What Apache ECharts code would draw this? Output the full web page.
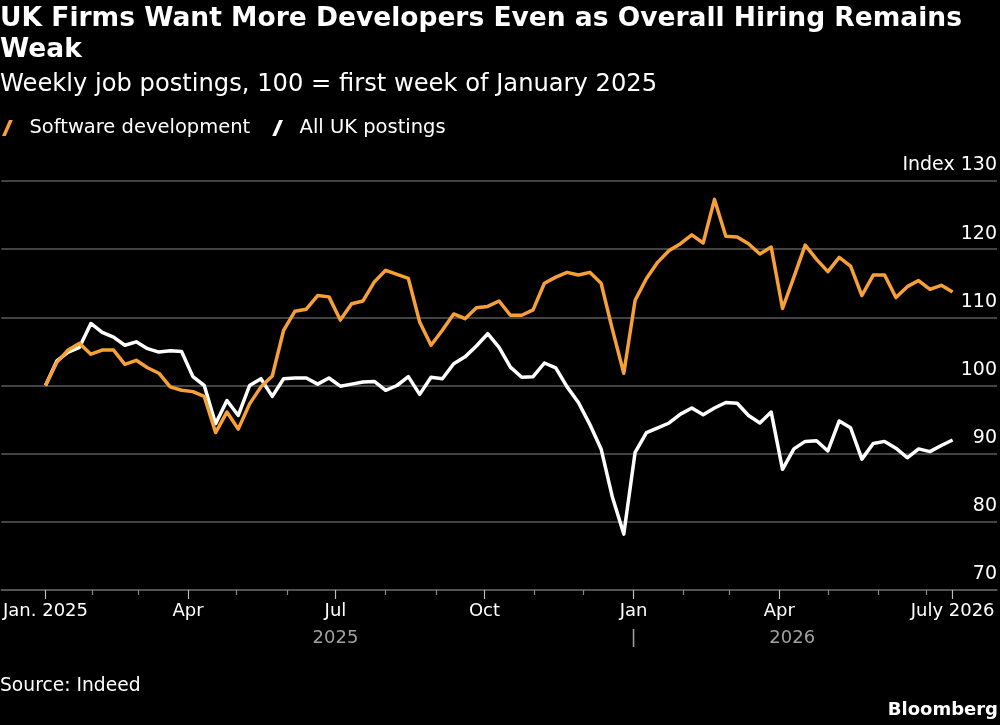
<!DOCTYPE html>
<html>
<head>
<meta charset="utf-8">
<script src="https://cdn.jsdelivr.net/npm/echarts@6/dist/echarts.min.js"></script>
<style>
html,body{margin:0;padding:0;background:#000;}
#chart{width:1000px;height:725px;}
</style>
</head>
<body>
<div id="chart"></div>
<script>
// ---- data ----
const titleText = 'UK Firms Want More Developers Even as Overall Hiring Remains\nWeak';
const subtitleText = 'Weekly job postings, 100 = first week of January 2025';
const sourceText = 'Source: Indeed';
const seriesNames = ['Software development', 'All UK postings'];
const firstWeek = '2025-01-03'; // weekly observations from this date
const software = [100,103.4,105.2,106.2,104.6,105.2,105.2,103.1,103.7,102.6,101.8,99.8,99.3,99.1,98.4,93.1,96.1,93.6,97.3,99.8,101.4,108.1,110.9,111.2,113.2,113,109.6,112,112.4,115.2,116.9,116.3,115.7,109.3,105.9,108.1,110.5,109.8,111.4,111.6,112.4,110.3,110.3,111.1,115,115.9,116.6,116.2,116.6,115,108.2,101.8,112.5,115.7,118.1,119.8,120.8,122.1,120.9,127.3,121.9,121.8,120.8,119.3,120.3,111.3,115.9,120.6,118.5,116.7,118.8,117.5,113.2,116.2,116.2,112.9,114.5,115.4,114.1,114.7,113.7];
const allUK = [100,103.6,104.9,105.6,109.1,107.8,107.1,105.9,106.4,105.4,104.9,105.1,105.0,101.3,100.0,94.4,97.8,95.6,100,101,98.4,101,101.1,101.1,100.2,101.1,99.9,100.2,100.5,100.6,99.3,100,101.3,98.7,101.2,101,103.2,104.2,105.8,107.6,105.6,102.7,101.2,101.3,103.3,102.6,99.8,97.5,94.3,90.7,83.6,78.2,90.2,93.1,93.8,94.5,95.8,96.7,95.7,96.7,97.5,97.4,95.6,94.5,96.1,87.7,90.7,91.8,91.9,90.4,94.8,93.8,89.2,91.5,91.8,90.8,89.4,90.7,90.3,91.2,92];
const majorTickDates = ['2025-01-03','2025-04-01','2025-07-01','2025-10-01','2026-01-01','2026-04-01','2026-07-17'];
const majorTickLabels = ['Jan. 2025','Apr','Jul','Oct','Jan','Apr','July 2026'];
const minorTickDates = ['2025-02-01','2025-03-01','2025-05-01','2025-06-01','2025-08-01','2025-09-01','2025-11-01','2025-12-01','2026-02-01','2026-03-01','2026-05-01','2026-06-01','2026-07-01'];
const yearLabelDates = ['2025-07-01','2026-01-01','2026-04-09'];
const yearLabels = ['2025','|','2026'];
const axisMinDate = '2024-12-06';
const axisMaxDate = '2026-08-13';

// ---- build (x axis = days since first week) ----
const DAY = 86400000;
const t = s => Date.parse(s + 'T00:00:00Z');
const t0 = t(firstWeek);
const d = s => Math.round((t(s) - t0) / DAY);
const softData = software.map((v, i) => [i * 7, v]);
const ukData = allUK.map((v, i) => [i * 7, v]);
const majorDays = majorTickDates.map(d);
const minorDays = minorTickDates.map(d);
const yearDays = yearLabelDates.map(d);
const xMin = d(axisMinDate) + 0.7;
const xMax = d(axisMaxDate) + 0.4;

const FONT = 'DejaVu Sans';
const GRID = '#5a5a5a';
const ORANGE = '#f6a035';

function baseX(extra) {
  return Object.assign({
    type: 'value', min: xMin, max: xMax, gridIndex: 0, position: 'bottom',
    axisLine: {show: false}, axisTick: {show: false},
    axisLabel: {show: false}, splitLine: {show: false}
  }, extra);
}

const chart = echarts.init(document.getElementById('chart'), null, {renderer: 'canvas'});
chart.setOption({
  backgroundColor: '#000',
  animation: false,
  title: [
    {text: titleText, left: 0, top: 3.5, padding: 0,
     textStyle: {color: '#fff', fontSize: 26.5, fontWeight: 'bold', fontFamily: FONT, lineHeight: 31}},
    {text: subtitleText, left: 0, top: 71.5, padding: 0,
     textStyle: {color: '#fff', fontSize: 24.2, fontWeight: 'normal', fontFamily: FONT, lineHeight: 26}},
    {text: sourceText, left: 0, top: 675, padding: 0,
     textStyle: {color: '#fff', fontSize: 18.7, fontWeight: 'normal', fontFamily: FONT, lineHeight: 22}},
    {text: 'Bloomberg', right: 2, top: 699, padding: 0,
     textStyle: {color: '#fff', fontSize: 18, fontWeight: 'bold', fontFamily: FONT, lineHeight: 22}}
  ],
  legend: {
    left: 2, top: 118, padding: 0, itemGap: 22, itemWidth: 12, itemHeight: 16,
    data: seriesNames.map((n, i) => ({
      name: n,
      icon: 'path://M0,16 L3.8,16 L10.8,0 L7,0 Z',
      itemStyle: {color: i === 0 ? ORANGE : '#fff'}
    })),
    textStyle: {color: '#fff', fontSize: 19.5, fontFamily: FONT, padding: [0, 0, 0, 11]},
    selectedMode: false
  },
  grid: {left: 0, right: 3, top: 181, bottom: 135, containLabel: false},
  xAxis: [
    baseX({
      axisLine: {show: true, lineStyle: {color: GRID, width: 1.5}},
      axisTick: {show: true, customValues: majorDays, length: 9, lineStyle: {color: '#bbb', width: 1.2}},
      axisLabel: {show: true, customValues: majorDays, margin: 12, color: '#fff', fontSize: 18, fontFamily: FONT,
        formatter: v => { const k = majorDays.indexOf(v); return k >= 0 ? majorTickLabels[k] : ''; }}
    }),
    baseX({
      axisTick: {show: true, customValues: minorDays, length: 5, lineStyle: {color: '#888', width: 1.2}}
    }),
    baseX({
      axisLabel: {show: true, customValues: yearDays, margin: 39, color: '#a0a0a0', fontSize: 18, fontFamily: FONT,
        formatter: v => { const k = yearDays.indexOf(v); return k >= 0 ? yearLabels[k] : ''; }}
    })
  ],
  yAxis: {
    type: 'value', position: 'right', min: 70, max: 130, interval: 10,
    axisLine: {show: false}, axisTick: {show: false},
    splitLine: {show: true, lineStyle: {color: GRID, width: 1.5}},
    axisLabel: {inside: true, margin: 0, verticalAlign: 'bottom', padding: [0, 0, 6, 0],
      color: '#fff', fontSize: 19, fontFamily: FONT,
      formatter: v => v === 130 ? 'Index 130' : String(v)}
  },
  series: [
    {name: seriesNames[1], type: 'line', data: ukData, showSymbol: false, symbol: 'none', z: 2,
     lineStyle: {color: '#fff', width: 3.5, join: 'round'}, itemStyle: {color: '#fff'}},
    {name: seriesNames[0], type: 'line', data: softData, showSymbol: false, symbol: 'none', z: 3,
     lineStyle: {color: ORANGE, width: 3.5, join: 'round'}, itemStyle: {color: ORANGE}}
  ]
});
</script>
</body>
</html>
